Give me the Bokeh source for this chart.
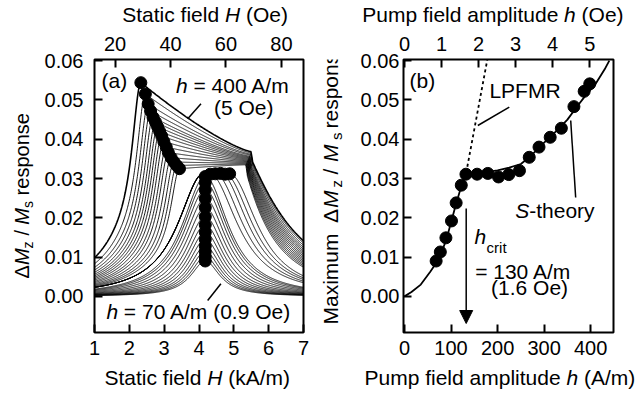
import numpy as np
from bokeh.plotting import figure
from bokeh.models import Range1d, LinearAxis, FixedTicker, PrintfTickFormatter, Label, Arrow, NormalHead
from bokeh.layouts import row, column
from bokeh.embed import file_html
from bokeh.resources import INLINE

FONT = "Liberation Sans"

# ---------------- data: panel (a) ----------------
# pump amplitude h (A/m) of each recorded sweep
A_PUMP = [70, 75, 80, 85, 90, 95, 100, 105, 110, 115, 120, 125, 130,
          140, 160, 180, 200, 225,
          250, 260, 270, 280, 290, 300, 310, 320, 330, 340, 350, 360, 370, 380, 390, 400]
# regime of each sweep: linear, saturated (Suhl), fold-over
A_KIND = ["lin", "lin", "lin", "lin", "lin", "lin", "lin", "lin", "lin", "lin", "lin", "lin", "lin",
          "sat", "sat", "sat", "sat", "sat",
          "fold", "fold", "fold", "fold", "fold", "fold", "fold", "fold",
          "fold", "fold", "fold", "fold", "fold", "fold", "fold", "fold"]
# position (kA/m) and height of the response maximum (the markers)
A_PEAK_H = [4.18, 4.18, 4.18, 4.18, 4.18, 4.18, 4.18, 4.18, 4.18, 4.18, 4.18, 4.18, 4.18,
            4.32, 4.47, 4.62, 4.75, 4.88,
            3.44, 3.36, 3.28, 3.20, 3.12, 3.06, 2.99, 2.93, 2.87, 2.81, 2.75, 2.68, 2.61, 2.54, 2.46, 2.33]
A_PEAK_V = [0.0090, 0.0101, 0.0114, 0.0128, 0.0145, 0.0163, 0.0182, 0.0203, 0.0226, 0.0249, 0.0271, 0.0290, 0.0305,
            0.0311, 0.0312, 0.0313, 0.0311, 0.0312,
            0.0325, 0.0333, 0.0342, 0.0353, 0.0366, 0.0380, 0.0394, 0.0408,
            0.0420, 0.0432, 0.0444, 0.0456, 0.0472, 0.0490, 0.0515, 0.0544]
# high-field shoulder of the fold-over sweeps, and the width of their high-field tail
FOLD_SHOULDER_H = [5.36, 5.37, 5.38, 5.39, 5.40, 5.41, 5.42, 5.43, 5.44, 5.45, 5.46, 5.47, 5.48, 5.50, 5.51, 5.52]
FOLD_SHOULDER_V = [0.0335, 0.0337, 0.0339, 0.0341, 0.0343, 0.0345, 0.0347, 0.0349,
                   0.0351, 0.0353, 0.0355, 0.0357, 0.0360, 0.0362, 0.0365, 0.0368]
FOLD_TAIL_W = [0.98, 1.02, 1.06, 1.10, 1.14, 1.18, 1.22, 1.26, 1.30, 1.34, 1.38, 1.42, 1.46, 1.50, 1.55, 1.60]

# ---------------- data: panel (b) ----------------
B_PUMP = [68, 77, 89, 101, 111, 122, 132, 156, 179, 202, 224, 247, 268, 289, 313, 337, 364, 386, 398]
B_MAX = [0.0090, 0.0113, 0.0149, 0.0192, 0.0238, 0.0283, 0.0311, 0.0311, 0.0313, 0.0304, 0.0310,
         0.0320, 0.0354, 0.0380, 0.0405, 0.0428, 0.0483, 0.0522, 0.0541]
S_THEORY_H = [0, 15, 35, 55, 70, 80, 90, 100, 110, 120, 128, 135, 150, 175, 200, 225, 250, 270,
              290, 310, 330, 350, 370, 390, 410, 430, 440]
S_THEORY_V = [0.0, 0.0011, 0.0030, 0.0062, 0.0088, 0.0113, 0.0145, 0.0188, 0.0232, 0.0272, 0.0298,
              0.0308, 0.0312, 0.0316, 0.0321, 0.0328, 0.0337, 0.0356, 0.0380, 0.0403, 0.0425, 0.0450,
              0.0482, 0.0513, 0.0540, 0.0578, 0.0600]
LPFMR_H = [135, 178]
LPFMR_V = [0.0330, 0.0603]

A_XTICKS = [1, 2, 3, 4, 5, 6, 7]
A_OE_TICKS = [20, 40, 60, 80]
B_XTICKS = [0, 100, 200, 300, 400]
B_OE_TICKS = [0, 1, 2, 3, 4, 5]
Y_TICKS = [0.0, 0.01, 0.02, 0.03, 0.04, 0.05, 0.06]
OE_PER_AM = 4 * np.pi / 1000.0  # 1 A/m in Oe

# ---------------- sweep line shapes ----------------
HG = np.linspace(1.0, 7.0, 601)


def lor(u):
    return 1.0 / (1.0 + u * u)


def sweep(kind, hp, vp, hs=None, vs=None, wt=None):
    if kind == "lin":
        w = 0.38 + 14 * vp
        y = vp * lor((HG - hp) / w)
    elif kind == "sat":
        hl = 4.12
        y = np.where(HG < hl, vp * lor((hl - HG) / 0.88),
                     np.where(HG <= hp, vp, vp * lor((HG - hp) / 0.95)))
    else:
        u = hp - HG
        left = vp * (0.7 * lor(u / 0.3) + 0.3 * lor(u / 1.3))
        frac = np.clip((hs - HG) / (hs - hp), 0, None)
        mid = vs + (vp - vs) * frac ** 1.3
        ar = 0.94 * vs * (1 + ((hs - 4.5) / wt) ** 2)
        right = ar * lor((HG - 4.5) / wt)
        y = np.where(HG < hp, left, np.where(HG <= hs, mid, right))
    k = np.ones(5) / 5
    return np.convolve(np.pad(y, 2, mode="edge"), k, mode="valid")


xs_a, ys_a = [], []
fi = 0
for kind, hp, vp in zip(A_KIND, A_PEAK_H, A_PEAK_V):
    if kind == "fold":
        ys_a.append(sweep(kind, hp, vp, FOLD_SHOULDER_H[fi], FOLD_SHOULDER_V[fi], FOLD_TAIL_W[fi]))
        fi += 1
    else:
        ys_a.append(sweep(kind, hp, vp))
    xs_a.append(HG)

# ---------------- figures ----------------
YR = (-0.0092, 0.0603)
A_XR = (1.0, 7.0)
B_XR = (-2.1, 449.0)
TOP_H = 26
MAIN_TOP = 33
FRAME_H = 273
MAIN_H = MAIN_TOP + FRAME_H + 29


def make_fig(width, bl, br, xr):
    p = figure(width=width, height=MAIN_H, x_range=Range1d(*xr), y_range=Range1d(*YR),
               output_backend="svg", toolbar_location=None,
               min_border_left=bl, min_border_right=br, min_border_top=MAIN_TOP, min_border_bottom=29)
    p.grid.visible = False
    p.outline_line_color = "black"
    p.outline_line_width = 2
    p.background_fill_color = "white"
    p.border_fill_color = "white"
    return p


def text_fig(w, h):
    f = figure(width=w, height=h, x_range=Range1d(0, w), y_range=Range1d(h, 0),
               output_backend="svg", toolbar_location=None, x_axis_type=None, y_axis_type=None,
               min_border_left=0, min_border_right=0, min_border_top=0, min_border_bottom=0)
    f.outline_line_color = None
    f.background_fill_color = "white"
    f.border_fill_color = "white"
    return f


def style_axis(ax, standoff):
    ax.major_tick_in = 8
    ax.major_tick_out = 0
    ax.minor_tick_in = 0
    ax.minor_tick_out = 0
    ax.major_tick_line_width = 2
    ax.major_tick_line_color = "black"
    ax.axis_line_color = None
    ax.major_label_text_font = FONT
    ax.major_label_text_font_size = "20px"
    ax.major_label_text_color = "black"
    ax.major_label_standoff = standoff
    ax.axis_label = None


pa = make_fig(277, 52, 15, A_XR)
pb = make_fig(279, 45, 23, B_XR)

for p, xt, oe_t, xr, lstand in ((pa, A_XTICKS, A_OE_TICKS, A_XR, 11), (pb, B_XTICKS, B_OE_TICKS, B_XR, 4)):
    p.xaxis.ticker = FixedTicker(ticks=xt)
    p.yaxis.ticker = FixedTicker(ticks=Y_TICKS)
    p.yaxis.formatter = PrintfTickFormatter(format="%.2f")
    style_axis(p.xaxis[0], 8)
    style_axis(p.yaxis[0], lstand)
    if p is pa:
        oe_range = Range1d(xr[0] * 1000 * OE_PER_AM, xr[1] * 1000 * OE_PER_AM)
    else:
        oe_range = Range1d(xr[0] * OE_PER_AM, xr[1] * OE_PER_AM)
    p.extra_x_ranges = {"oe": oe_range}
    top = LinearAxis(x_range_name="oe", ticker=FixedTicker(ticks=oe_t))
    style_axis(top, 9)
    p.add_layout(top, "above")

# panel (a) glyphs
pa.multi_line(xs=xs_a[:-1], ys=ys_a[:-1], line_color="black", line_width=0.9)
pa.line(xs_a[-1], ys_a[-1], line_color="black", line_width=1.6)
pa.scatter(A_PEAK_H, A_PEAK_V, size=12, fill_color="black", line_color="black")

# panel (b) glyphs
pb.line(S_THEORY_H, S_THEORY_V, line_color="black", line_width=1.8)
pb.line(LPFMR_H, LPFMR_V, line_color="black", line_width=1.8, line_dash="3 3")
pb.scatter(B_PUMP, B_MAX, size=12, fill_color="black", line_color="black")


# ---------------- annotations (page px -> data) ----------------
def ax_(x):
    return A_XR[0] + (x - 93) * (A_XR[1] - A_XR[0]) / 210.0


def bx_(x):
    return B_XR[0] + (x - 402) * (B_XR[1] - B_XR[0]) / 211.0


def y_(y):
    return YR[1] - (y - 59) * (YR[1] - YR[0]) / 273.0


def ident(v):
    return v


def lab(p, fx, fy, x, y, text, size=21, style="normal", angle=0.0):
    fix = 0.33 * size  # renderer puts the glyph baseline this far below the anchor
    if angle == 0.0:
        y = y - fix
    else:
        x = x - fix
    p.add_layout(Label(x=fx(x), y=fy(y), text=text, text_font=FONT, text_font_size=f"{size}px",
                       text_font_style=style, text_color="black", text_align="left",
                       text_baseline="alphabetic", angle=angle))


# title strips
main_bottom = TOP_H + MAIN_H
top_f = text_fig(636, TOP_H)
bot_f = text_fig(636, 396 - 4 - main_bottom)
ya_f = text_fig(41, MAIN_H)
yb_f = text_fig(39, MAIN_H)


def shift(d):
    return lambda v: v - d


def side_y(v):
    # the side strips share the row's frame (page y 59..332) for their full data height
    return (v - 59) * MAIN_H / FRAME_H


lab(top_f, ident, ident, 121.7, 21, "Static field")
lab(top_f, ident, ident, 224.4, 21, "H", style="italic")
lab(top_f, ident, ident, 245.4, 21, "(Oe)")
lab(top_f, ident, ident, 361.7, 21, "Pump field amplitude")
lab(top_f, ident, ident, 563.6, 21, "h", style="italic")
lab(top_f, ident, ident, 581.1, 21, "(Oe)")

by = shift(main_bottom)
lab(bot_f, ident, by, 104, 384, "Static field")
lab(bot_f, ident, by, 206.7, 384, "H", style="italic")
lab(bot_f, ident, by, 227.7, 384, "(kA/m)")
lab(bot_f, ident, by, 364, 384, "Pump field amplitude")
lab(bot_f, ident, by, 565.9, 384, "h", style="italic")
lab(bot_f, ident, by, 583.4, 384, "(A/m)")

# rotated y titles
R = np.pi / 2
for yy, t, st, sub in ((278, "Δ", "normal", False), (264.6, "M", "italic", False), (247.9, "z", "normal", True),
                       (235.1, "/", "normal", False), (224.2, "M", "italic", False), (207.5, "s", "normal", True),
                       (194.9, "response", "normal", False)):
    lab(ya_f, ident, side_y, 32 if sub else 28, yy, t, size=14 if sub else 20, style=st, angle=R)
bxs = shift(318)
for yy, t, st, sub in ((324, "Maximum", "normal", False), (222.5, "Δ", "normal", False),
                       (207.5, "M", "italic", False), (187, "z", "normal", True),
                       (174, "/", "normal", False), (161.5, "M", "italic", False),
                       (139.5, "s", "normal", True), (128, "response", "normal", False)):
    lab(yb_f, bxs, side_y, 341 if sub else 337, yy, t, size=15 if sub else 21, style=st, angle=R)

# panel texts
lab(pa, ax_, y_, 100, 87, "(a)")
lab(pa, ax_, y_, 175, 91.5, "h", style="italic")
lab(pa, ax_, y_, 192.5, 91.5, "= 400 A/m")
lab(pa, ax_, y_, 213, 114, "(5 Oe)")
lab(pa, ax_, y_, 105, 318, "h", style="italic")
lab(pa, ax_, y_, 122.5, 318, "= 70 A/m (0.9 Oe)")
pa.line([ax_(186.7), ax_(200)], [y_(118.3), y_(103.3)], line_color="black", line_width=1.5)
pa.line([ax_(206.7), ax_(220)], [y_(300), y_(283.3)], line_color="black", line_width=1.5)

lab(pb, bx_, y_, 408, 87, "(b)")
lab(pb, bx_, y_, 488.3, 97, "LPFMR")
lab(pb, bx_, y_, 514.3, 216.7, "S", style="italic")
lab(pb, bx_, y_, 528.3, 216.7, "-theory")
lab(pb, bx_, y_, 473.3, 243, "h", style="italic")
lab(pb, bx_, y_, 485.5, 251.5, "crit", size=15)
lab(pb, bx_, y_, 474, 278, "= 130 A/m")
lab(pb, bx_, y_, 490, 293.5, "(1.6 Oe)")
pb.line([bx_(476.7), bx_(508.3)], [y_(125), y_(106.7)], line_color="black", line_width=1.5)
pb.line([bx_(570), bx_(575)], [y_(120), y_(197)], line_color="black", line_width=1.5)
pb.add_layout(Arrow(x_start=bx_(465), y_start=y_(208), x_end=bx_(465), y_end=y_(323),
                    line_color="black", line_width=1.5,
                    end=NormalHead(size=13, fill_color="black", line_color="black")))

layout = column(top_f, row(ya_f, pa, yb_f, pb), bot_f)
open("out.html", "w").write(file_html(layout, INLINE))
